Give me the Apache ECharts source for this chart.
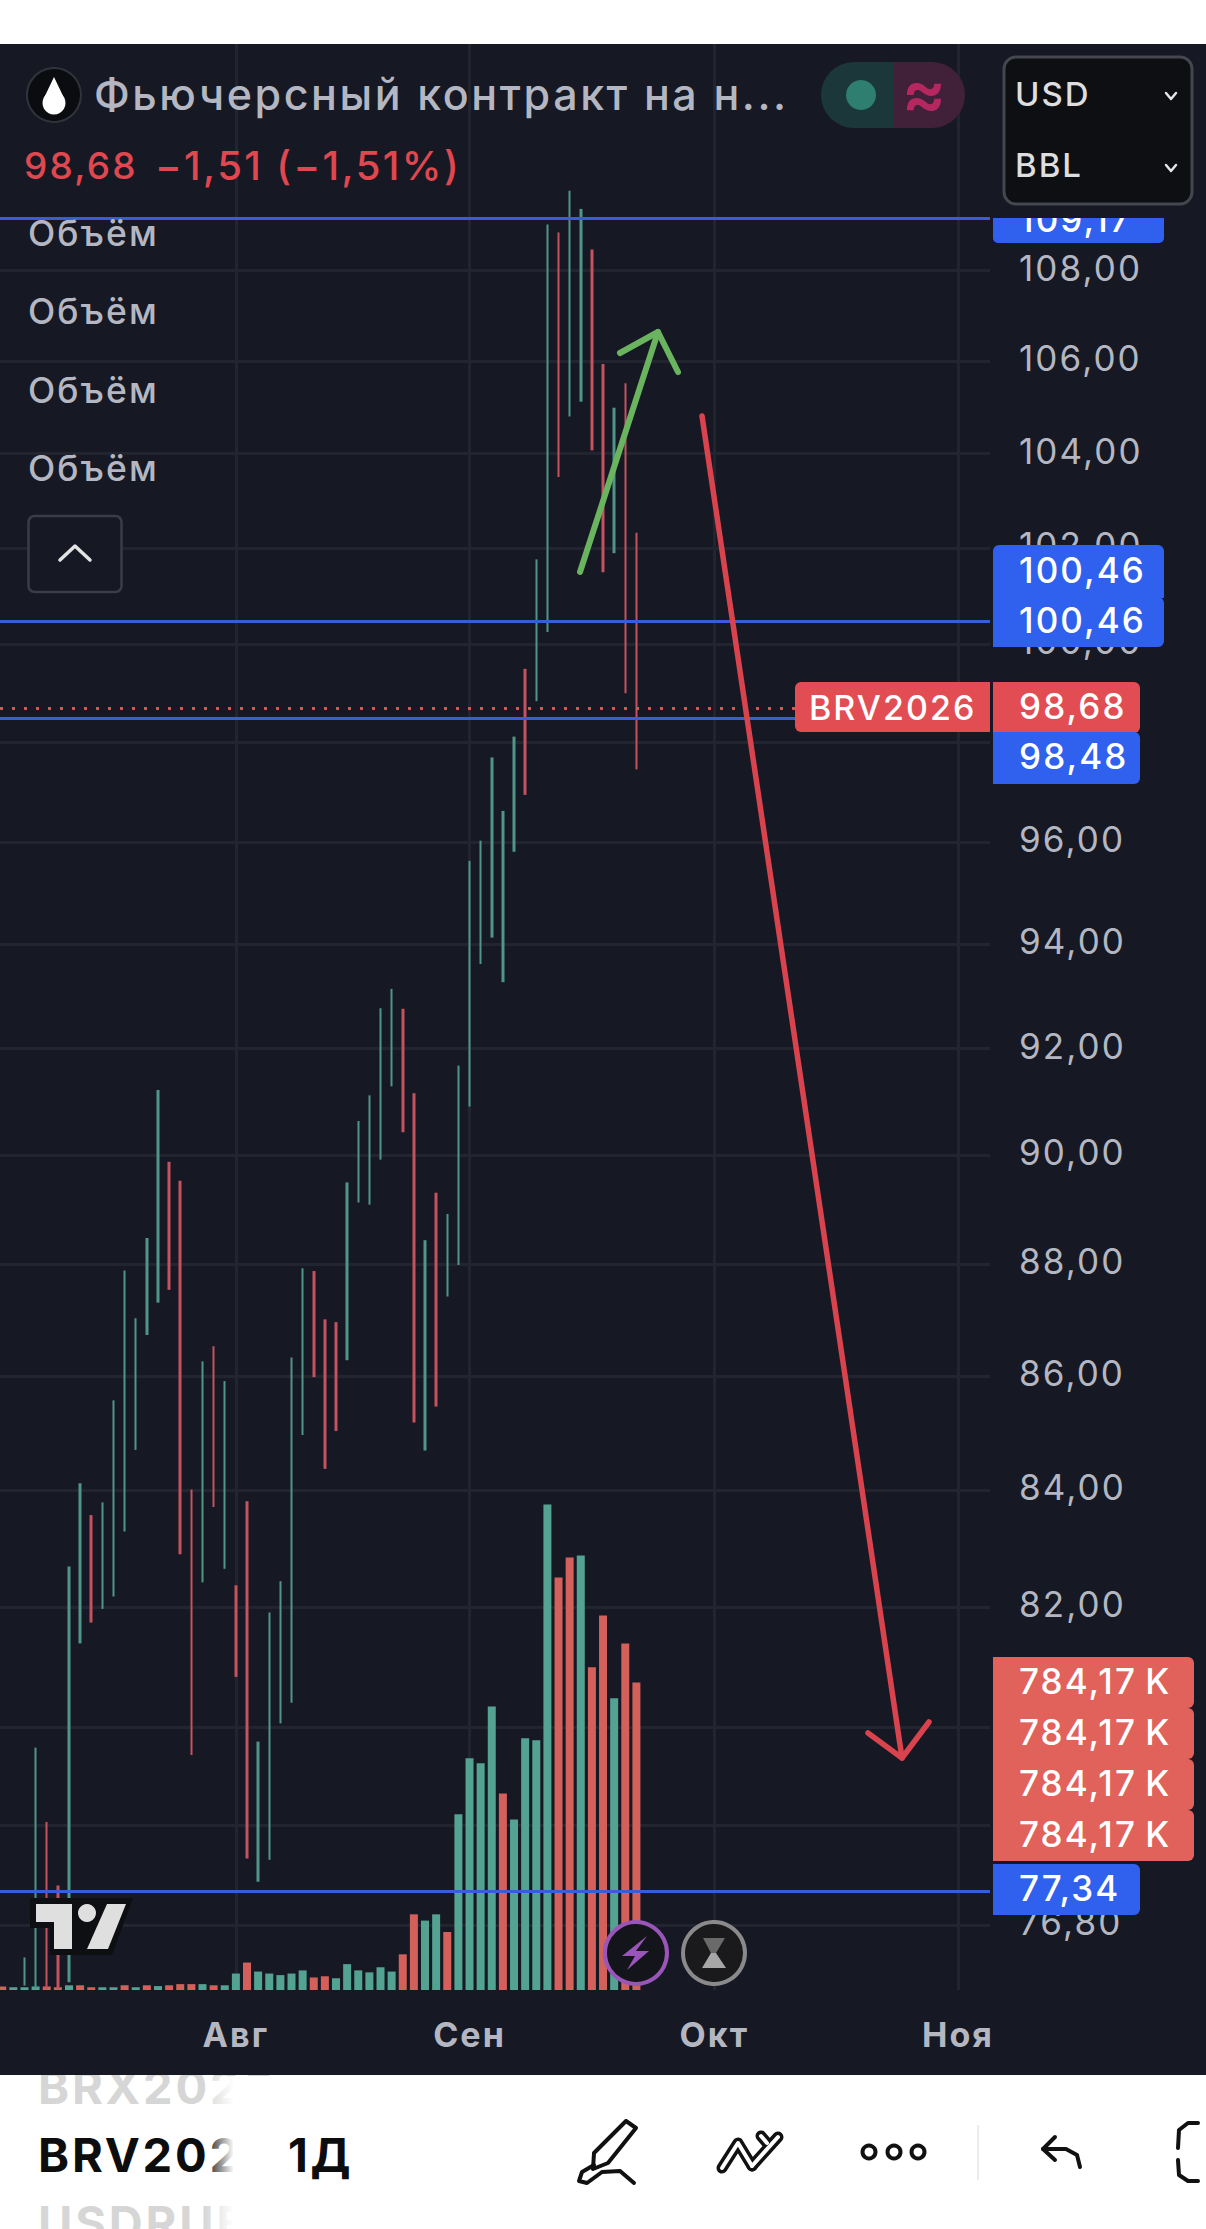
<!DOCTYPE html>
<html><head><meta charset="utf-8">
<style>
html,body{margin:0;padding:0;background:#fff}
#chart{width:1206px;height:2229px}
#chart text{letter-spacing:.06em}
</style>
<script src="https://cdn.jsdelivr.net/npm/echarts@6/dist/echarts.min.js"></script>
</head><body><div id="chart"></div>
<script>
// Daily bars, oldest first. null = bar below the visible range.
const highs = [null,null,76.29,79.66,78.45,77.43,82.69,84.12,83.57,83.79,85.57,87.89,87.03,88.48,91.22,89.88,89.53,84.01,86.26,86.53,85.91,82.37,83.81,79.76,81.91,82.44,86.33,87.93,87.88,87.01,86.96,89.50,90.64,91.12,92.77,93.14,92.76,91.16,88.44,89.31,88.92,91.68,95.63,96.03,97.69,96.62,98.11,99.49,101.76,109.03,108.85,109.79,109.38,108.47,105.94,104.99,105.52,102.32];
const lows  = [null,null,75.85,75.80,75.80,75.80,75.90,81.39,81.74,81.97,82.18,83.29,84.70,86.73,87.31,87.54,82.90,79.54,82.42,83.71,82.65,80.83,77.86,77.49,77.84,80.06,80.40,84.96,85.98,84.37,85.03,86.28,89.13,89.09,89.92,91.29,90.43,85.18,84.69,85.46,87.42,87.99,90.91,93.62,94.13,93.27,95.81,96.94,98.83,100.25,103.50,104.80,105.12,104.07,101.49,101.89,98.99,97.45];
const barUp = [0,0,1,1,0,0,1,1,0,1,1,1,1,1,1,0,0,0,1,0,1,0,0,1,1,1,1,1,0,0,0,1,1,1,1,1,0,0,1,0,1,1,1,1,1,1,1,0,1,1,0,1,1,0,0,1,0,0];
const volumes = [9,7,7,9,9,7,12,12,7,7,7,12,7,12,10,12,15,15,15,12,12,42,70,47,42,38,42,50,32,35,30,66,50,45,58,47,91,193,177,193,148,448,591,578,723,501,435,642,637,1238,1052,1103,1108,823,955,744,884,784.17];
const volUp = [0,1,1,1,0,0,1,0,0,1,1,0,1,0,1,0,0,0,1,0,1,1,0,1,1,1,1,1,0,0,1,1,1,1,1,1,0,0,1,1,0,1,1,1,1,0,1,1,1,1,0,0,1,0,0,1,0,0];
const priceTicks = [76.8,78.4,80,82,84,86,88,90,92,94,96,98,100,102,104,106,108];
const monthTicks = [21,42,64,85.9];
const monthLabels = ['Авг','Сен','Окт','Ноя'];
const priceLevels = [109.17,100.46,98.48,77.34];
const lastPrice = 98.68;
const lastVolume = '784,17\u202FK';
const ticker = 'BRV2026';

const fmt = v => v.toFixed(2).replace('.', ',');
const FONT = 'Inter, "Noto Sans", sans-serif';
const GRID = '#22252f', GREEN='#4f9688', RED='#c4535e', VGREEN='#53a292', VRED='#d3605a';
const BLUE_TAG='#3060ee', RED_TAG='#e24d53', VOL_TAG='#e0625a';

const candles = [];
highs.forEach((h,i)=>{ if(h===null) return;
  const l = lows[i];
  candles.push(barUp[i] ? [i,l,h,l,h] : [i,h,l,l,h]);
});
const volData = volumes.map((v,i)=>({value:[i,v],itemStyle:{color:volUp[i]?VGREEN:VRED}}));

const gfx = [];
const add = (o,z)=>{ o.z = z===undefined?100:z; o.silent=true; gfx.push(o); };
const text = (t,x,y,size,fill,opt={},z)=>add({type:'text',x,y,style:Object.assign({text:t,fill,font:`${opt.weight||400} ${size}px ${FONT}`,textAlign:opt.align||'left',textVerticalAlign:'middle'})},z);
const rect = (x,y,w,h,fill,r=0,z,stroke,lw)=>add({type:'rect',shape:{x,y,width:w,height:h,r},style:{fill,stroke:stroke||null,lineWidth:lw||0}},z);
const tag = (x,y,w,h,fill,t,r,z=110)=>{ rect(x,y,w,h,fill,r,z); text(t,1019,y+h/2-2,35,'#fff',{weight:500},z+1); };
const line = (pts,stroke,lw,z,cap='round')=>add({type:'polyline',shape:{points:pts},style:{stroke,lineWidth:lw,fill:null,lineCap:cap,lineJoin:'round'}},z);
const poly = (pts,fill,z)=>add({type:'polygon',shape:{points:pts},style:{fill}},z);
const circ = (cx,cy,r,fill,stroke,lw,z)=>add({type:'circle',shape:{cx,cy,r},style:{fill,stroke:stroke||null,lineWidth:lw||0}},z);

// panels
text('BRX2026',38,2086,47,'#d6d6d6',{weight:700},-2);
rect(0,44,1206,2031,'#161924',0,-1);
// header
circ(54,95,27,'#0b0c0f','#30333a',2,120);
circ(54,103,11.5,'#fff',null,0,121);
poly([[43.5,99],[54,77],[64.5,99]],'#fff',121);
text('Фьючерсный контракт на н...',94,94,43,'#b4b7c1',{weight:500},120);
text(`${fmt(lastPrice)}`,24,165,37,'#e0474f',{weight:500},120);
text('−1,51 (−1,51%)',155,165,40,'#e0474f',{weight:500},120);
add({type:'rect',shape:{x:821,y:62,width:100,height:66,r:[33,0,0,33]},style:{fill:'#1c3739'}},119);
add({type:'rect',shape:{x:893,y:62,width:72,height:66,r:[0,33,33,0]},style:{fill:'#41203a'}},119);
circ(861,95,15,'#2f7f70',null,0,120);
text('≈',926,92,66,'#b5285f',{weight:600,align:'center'},120);
// legend
['Объём','Объём','Объём','Объём'].forEach((t,i)=>text(t,28,[233,311,390,468][i],35.5,'#b4b7c1',{weight:500},90));
rect(28.5,516,93,76,'#161924',6,90,'#3a3d45',2.5);
line([[60,560],[75,546],[90,560]],'#e3e3e3',3.5,91);
// tag clipped under the first level
text(fmt(priceLevels[0]),1019,219,35,'#fff',{weight:500},111);
rect(993,216,171,27,BLUE_TAG,[0,0,5,5],110);
rect(991,170,215,48,'#161924',0,112);
// currency box
rect(1004,57,188,147,'#0e0f12',12,120,'#44474d',3);
text('USD',1015,94,33,'#dedede',{weight:500},121);
text('BBL',1015,165,33,'#dedede',{weight:500},121);
line([[1166,93],[1171,99],[1176,93]],'#e6e6e6',2.5,121);
line([[1166,165],[1171,171],[1176,165]],'#e6e6e6',2.5,121);
// level tags
tag(993,545,171,53,BLUE_TAG,fmt(priceLevels[1]),[6,6,0,0]);
tag(993,597,171,50,BLUE_TAG,fmt(priceLevels[1]),[0,6,6,0],112);
rect(795,682,195,50,RED_TAG,[6,0,0,6],110);
text(ticker,809,707,34,'#fff',{weight:500},111);
tag(993,682,147,51,RED_TAG,fmt(lastPrice),[0,6,6,0]);
tag(993,732,147,52,BLUE_TAG,fmt(priceLevels[2]),[0,6,6,0]);
[1657,1708,1759,1810].forEach(y=>tag(993,y,201,51,VOL_TAG,lastVolume,[0,6,6,0]));
tag(993,1864,147,51,BLUE_TAG,fmt(priceLevels[3]),[0,6,6,0]);
// drawn arrows
line([[580,572],[658,332]],'#6ab45f',6,105);
line([[620,353],[658,332],[678,372]],'#6ab45f',6,105);
line([[702,416],[902,1758]],'#d8434d',5.5,105);
line([[868,1733],[902,1758],[929,1722]],'#d8434d',5.5,105);
// logo
poly([[30,1898],[133,1898],[112,1955],[50,1955],[50,1928],[30,1928]],'#0e0f13',106);
poly([[36,1904],[72,1904],[72,1949],[54,1949],[54,1922],[36,1922]],'#dfdfdf',107);
circ(87,1913,9,'#dfdfdf',null,0,107);
poly([[107,1904],[126,1904],[108,1949],[87,1949]],'#dfdfdf',107);
// buttons
circ(636,1953,31,'#14151a','#9a55b8',4,106);
poly([[647,1936],[622,1956],[635,1956],[627,1970],[649,1951],[636,1951]],'#9a55b8',107);
circ(714,1953,31,'#1a1a1d','#8a8a8a',4,106);
poly([[703,1938],[725,1938],[716,1953],[711,1953]],'#6a6a6a',107);
poly([[711,1953],[716,1953],[726,1968],[702,1968]],'#a6a6a6',107);
// bottom strip
text(ticker,38,2154,47,'#0d0d0d',{weight:700},130);
text('USDRUB',38,2222,47,'#d6d6d6',{weight:700},130);
add({type:'rect',shape:{x:204,y:2076,width:30,height:153},style:{fill:{type:'linear',x:0,y:0,x2:1,y2:0,colorStops:[{offset:0,color:'rgba(255,255,255,0)'},{offset:1,color:'#fff'}]}}},131);
rect(233,2076,53,153,'#fff',0,131);
text('1Д',288,2155,46,'#0d0d0d',{weight:700},132);
poly([[626,2121],[636,2128],[608,2163],[593,2169],[594,2153]],'#fff',130);
line([[626,2121],[636,2128],[608,2163],[593,2169],[594,2153],[626,2121]],'#111',4,131);
line([[594,2165],[582,2172],[579,2181],[587,2183],[602,2172],[620,2171],[634,2183]],'#111',4,131);
[[[722,2168],[738,2143],[752,2166]],[[752,2166],[778,2137]],[[767,2143],[761,2136]]].forEach(p=>{line(p,'#111',11,131);line(p,'#fff',4,132);});
[869,894,918].forEach(x=>circ(x,2152,6.5,'#fff','#111',4,131));
line([[978,2125],[978,2180]],'#ececec',2,131,'butt');
line([[1055,2137],[1043,2149],[1055,2160]],'#111',4,131);
line([[1043,2149],[1066,2149],[1077,2155],[1080,2167]],'#111',4,131);
line([[1198,2123],[1188,2123],[1179,2130],[1178,2148]],'#111',4,131);
line([[1178,2160],[1179,2175],[1188,2181],[1198,2181]],'#111',4,131);

const chart = echarts.init(document.getElementById('chart'),null,{renderer:'svg'});
chart.setOption({
  animation:false,
  backgroundColor:'#fff',
  grid:{left:0,top:44,width:990,height:1946,show:false},
  xAxis:{type:'value',min:-0.2,max:88.78,
    axisLine:{show:false},
    axisTick:{show:false,customValues:monthTicks},
    splitLine:{show:true,lineStyle:{color:GRID,width:3}},
    axisLabel:{customValues:monthTicks,margin:27,color:'#b4b7c1',fontFamily:FONT,fontSize:34,fontWeight:700,
      formatter:v=>monthLabels[monthTicks.indexOf(v)]||''}},
  yAxis:[
    {type:'log',logBase:10,min:75.78,max:113.16,position:'right',
     axisLine:{show:false},
     axisTick:{show:false,customValues:priceTicks},
     splitLine:{show:true,lineStyle:{color:GRID,width:3}},
     axisLabel:{customValues:priceTicks,margin:29,color:'#b4b7c1',fontFamily:FONT,fontSize:35,verticalAlign:'bottom',lineHeight:6,formatter:fmt}},
    {type:'value',min:0,max:4963,show:false,splitLine:{show:false}}
  ],
  series:[
    {type:'bar',name:'Объём',xAxisIndex:0,yAxisIndex:1,barWidth:8,data:volData,z:2,silent:true},
    {type:'candlestick',name:ticker,xAxisIndex:0,yAxisIndex:0,barWidth:3,data:candles,z:3,silent:true,
     encode:{x:0,y:[1,2,3,4]},
     itemStyle:{color:GREEN,color0:RED,borderColor:GREEN,borderColor0:RED,borderWidth:0},
     markLine:{silent:true,symbol:'none',label:{show:false},animation:false,
       data:[
         ...priceLevels.map(v=>({yAxis:v,lineStyle:{color:'#3a5cd8',width:3,type:'solid'}})),
         {yAxis:lastPrice,lineStyle:{color:'#d9535a',width:3,type:[3,9]}}
       ]}}
  ],
  graphic:{elements:gfx}
});
</script></body></html>
